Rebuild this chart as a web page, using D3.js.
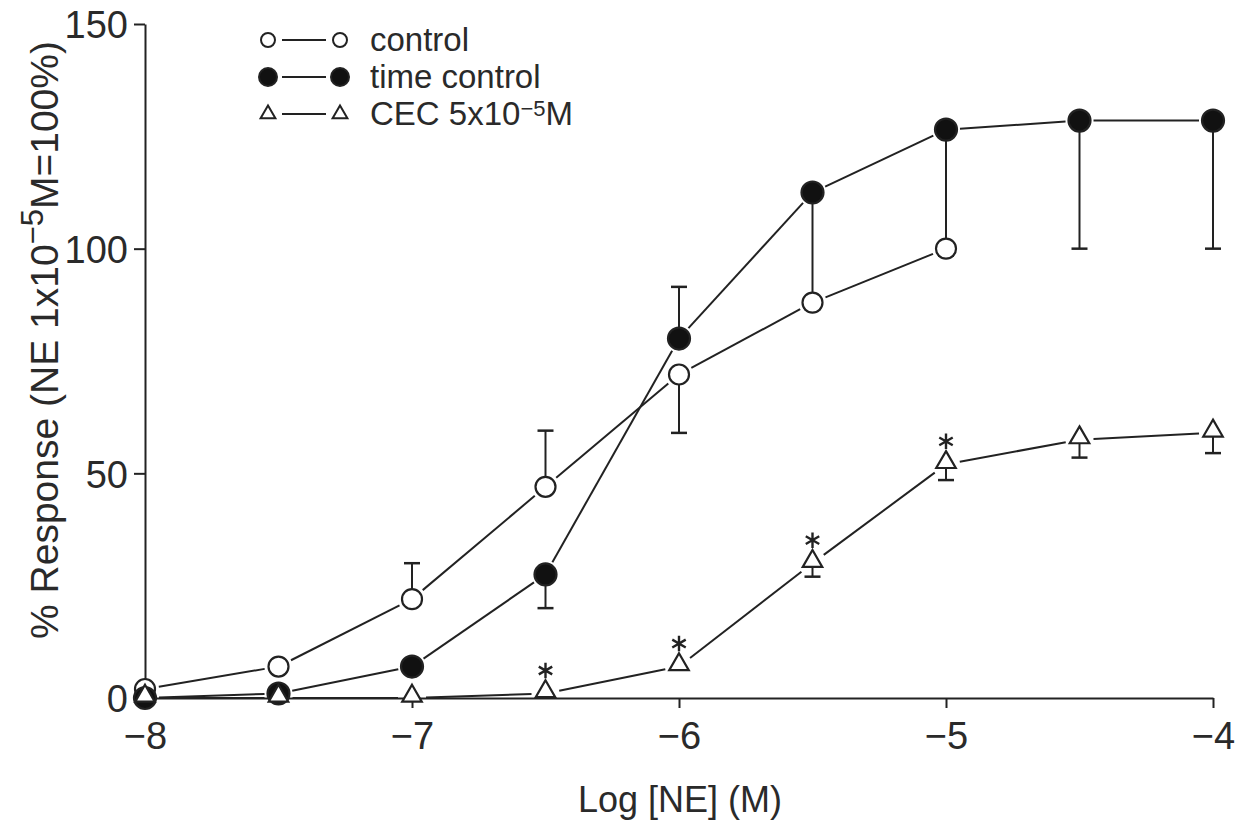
<!DOCTYPE html>
<html>
<head>
<meta charset="utf-8">
<script src="https://cdn.jsdelivr.net/npm/d3@7"></script>
<style>
  body { margin: 0; background: #fff; }
  svg { display: block; }
  text { font-family: "Liberation Sans", Arial, sans-serif; fill: #2a2a2a; }
</style>
</head>
<body>
<svg id="chart" width="1244" height="822"></svg>
<script>
// log concentrations
var logConc = [-8, -7.5, -7, -6.5, -6, -5.5, -5, -4.5, -4];

// % response, null = not measured
var control     = [2, 7, 22, 47, 72, 88, 100, null, null];
var timeControl = [0, 1, 7, 27.5, 80, 112.5, 126.5, 128.5, 128.5];
var cec         = [0, 0, 0, 1, 7, 30, 52, 57.5, 59];

// one-sided error bar ends (null = none drawn)
var controlErr     = [null, null, 30, 59.5, 59, null, 98.5, null, null];
var timeControlErr = [null, null, null, 20, 91.5, 86.5, 98.5, 100, 100];
var cecErr         = [null, null, null, null, null, 27, 48.5, 53.5, 54.5];

// significance marks
var cecStar = [false, false, false, true, true, true, true, false, false];

var xTicks = [-8, -7, -6, -5, -4];
var yTicks = [0, 50, 100, 150];

var svg = d3.select("#chart");

var x = d3.scaleLinear().domain([-8, -4]).range([145, 1213]);
var y = d3.scaleLinear().domain([0, 150]).range([698, 24]);

var minus = function(d) { return d < 0 ? "\u2212" + Math.abs(d) : d; };

// axes
var xAxis = svg.append("g")
  .attr("transform", "translate(0," + y(0) + ")")
  .call(d3.axisBottom(x).tickValues(xTicks).tickFormat(minus).tickSize(10).tickSizeOuter(0).tickPadding(14));

var yAxis = svg.append("g")
  .attr("transform", "translate(" + x(-8) + ",0)")
  .call(d3.axisLeft(y).tickValues(yTicks).tickSize(11).tickSizeOuter(0).tickPadding(6));

[xAxis, yAxis].forEach(function(g) {
  g.selectAll("path, line").attr("stroke", "#222").attr("stroke-width", 2);
  g.selectAll("text").attr("font-size", 38).attr("fill", "#2a2a2a")
    .attr("font-family", "Liberation Sans, Arial, sans-serif");
});
yAxis.selectAll("text").attr("dy", "0.36em");

// axis titles
svg.append("text")
  .attr("x", 680).attr("y", 812)
  .attr("text-anchor", "middle")
  .attr("font-size", 36)
  .text("Log [NE] (M)");

var yTitle = svg.append("text")
  .attr("transform", "translate(58,340) rotate(-90)")
  .attr("text-anchor", "middle")
  .attr("font-size", 39);
yTitle.append("tspan").text("% Response (NE 1x10");
yTitle.append("tspan").attr("dy", -15).attr("font-size", 31).text("\u22125");
yTitle.append("tspan").attr("dy", 15).text("M=100%)");

// helpers
function pts(vals) {
  var out = [];
  vals.forEach(function(v, i) { if (v != null) out.push([x(logConc[i]), y(v)]); });
  return out;
}

// connecting segments, trimmed so they stop short of the markers
function segments(vals, gap) {
  var p = pts(vals);
  var segs = [];
  for (var i = 0; i < p.length - 1; i++) {
    var dx = p[i + 1][0] - p[i][0], dy = p[i + 1][1] - p[i][1];
    var len = Math.sqrt(dx * dx + dy * dy);
    if (len <= gap * 2) continue;
    var ux = dx / len, uy = dy / len;
    segs.push([[p[i][0] + ux * gap, p[i][1] + uy * gap],
               [p[i + 1][0] - ux * gap, p[i + 1][1] - uy * gap]]);
  }
  return segs;
}

var line = d3.line();
var plot = svg.append("g");

function drawSeries(vals, errs, gap) {
  plot.selectAll(null).data(segments(vals, gap)).enter()
    .append("path")
    .attr("d", line)
    .attr("fill", "none").attr("stroke", "#222").attr("stroke-width", 2);

  var eb = [];
  vals.forEach(function(v, i) { if (v != null && errs[i] != null) eb.push({ x: logConc[i], v: v, e: errs[i] }); });
  var g = plot.selectAll(null).data(eb).enter().append("g");
  g.append("line")
    .attr("x1", function(d) { return x(d.x); }).attr("x2", function(d) { return x(d.x); })
    .attr("y1", function(d) { return y(d.v); }).attr("y2", function(d) { return y(d.e); })
    .attr("stroke", "#222").attr("stroke-width", 2);
  g.append("line")
    .attr("x1", function(d) { return x(d.x) - 8; }).attr("x2", function(d) { return x(d.x) + 8; })
    .attr("y1", function(d) { return y(d.e); }).attr("y2", function(d) { return y(d.e); })
    .attr("stroke", "#222").attr("stroke-width", 2.5);
}

drawSeries(control, controlErr, 14);
drawSeries(timeControl, timeControlErr, 14);
drawSeries(cec, cecErr, 14);

var tri = d3.symbol().type(d3.symbolTriangle).size(165);

function markers(vals, kind) {
  var sel = plot.selectAll(null).data(pts(vals)).enter();
  if (kind === "tri") {
    sel.append("path")
      .attr("d", tri)
      .attr("transform", function(d) { return "translate(" + d[0] + "," + (d[1] - 2) + ")"; })
      .attr("fill", "#fff").attr("stroke", "#222").attr("stroke-width", 2.2);
  } else {
    sel.append("circle")
      .attr("cx", function(d) { return d[0]; }).attr("cy", function(d) { return d[1]; })
      .attr("r", kind === "filled" ? 11 : 10)
      .attr("fill", kind === "filled" ? "#111" : "#fff")
      .attr("stroke", "#222").attr("stroke-width", 2.2);
  }
}

markers(control, "open");
markers(timeControl, "filled");
markers(cec, "tri");

// asterisks above CEC points
var stars = [];
cec.forEach(function(v, i) { if (cecStar[i]) stars.push([x(logConc[i]), y(v)]); });
plot.selectAll(null).data(stars).enter()
  .append("path")
  .attr("d", d3.symbol().type(d3.symbolAsterisk).size(170))
  .attr("transform", function(d) { return "translate(" + d[0] + "," + (d[1] - 23) + ")"; })
  .attr("fill", "none").attr("stroke", "#222").attr("stroke-width", 2.4);

// legend
var legendItems = [
  { kind: "open", label: "control" },
  { kind: "filled", label: "time control" },
  { kind: "tri", label: "CEC 5x10" }
];
var legend = svg.append("g").attr("transform", "translate(268,40)");
legendItems.forEach(function(it, i) {
  var row = legend.append("g").attr("transform", "translate(0," + (i * 37) + ")");
  row.append("line").attr("x1", 14).attr("x2", 58).attr("y1", 0).attr("y2", 0)
    .attr("stroke", "#222").attr("stroke-width", 2);
  [0, 72].forEach(function(cx) {
    if (it.kind === "tri") {
      row.append("path").attr("d", d3.symbol().type(d3.symbolTriangle).size(95))
        .attr("transform", "translate(" + cx + ",0)")
        .attr("fill", "#fff").attr("stroke", "#222").attr("stroke-width", 2);
    } else {
      row.append("circle").attr("cx", cx).attr("cy", 0)
        .attr("r", it.kind === "filled" ? 9 : 7)
        .attr("fill", it.kind === "filled" ? "#111" : "#fff")
        .attr("stroke", "#222").attr("stroke-width", 2);
    }
  });
  var t = row.append("text").attr("x", 102).attr("y", 11).attr("font-size", 33).text(it.label);
  if (it.kind === "tri") {
    t.append("tspan").attr("dy", -9).attr("font-size", 22).text("\u22125");
    t.append("tspan").attr("dy", 9).text("M");
  }
});
</script>
</body>
</html>
